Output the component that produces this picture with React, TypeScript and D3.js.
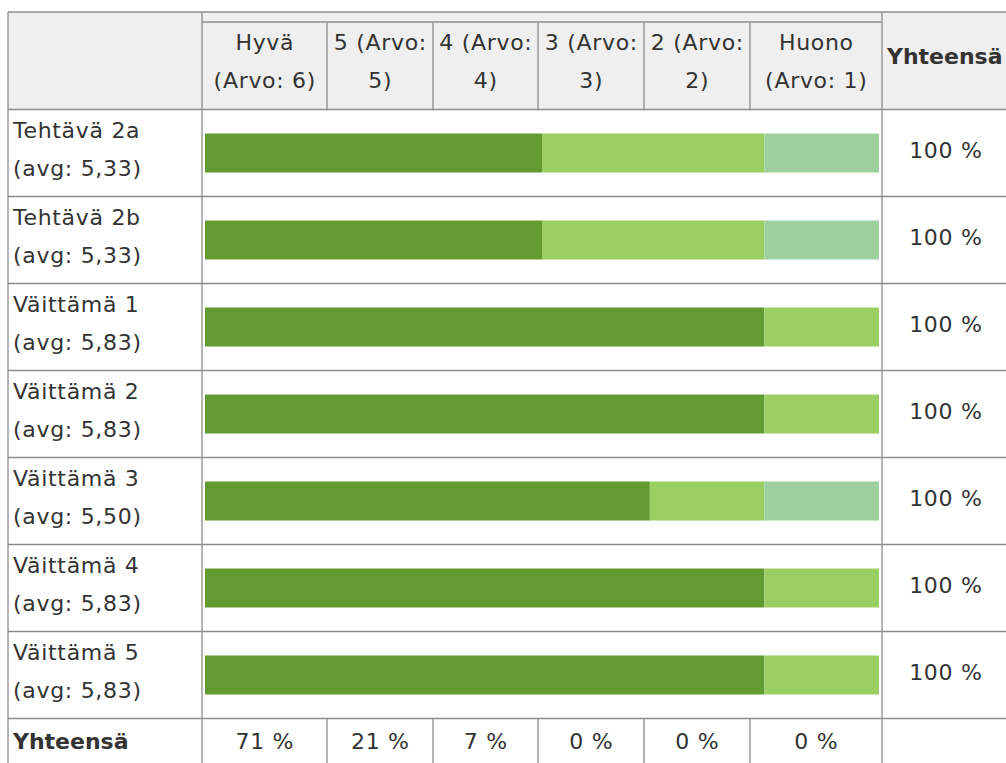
import React from "react";
import * as d3 from "d3";

const categories = ["Tehtävä 2a", "Tehtävä 2b", "Väittämä 1", "Väittämä 2", "Väittämä 3", "Väittämä 4", "Väittämä 5"];
const avgLabels = ["(avg: 5,33)", "(avg: 5,33)", "(avg: 5,83)", "(avg: 5,83)", "(avg: 5,50)", "(avg: 5,83)", "(avg: 5,83)"];
const headerLine1 = ["Hyvä", "5 (Arvo:", "4 (Arvo:", "3 (Arvo:", "2 (Arvo:", "Huono"];
const headerLine2 = ["(Arvo: 6)", "5)", "4)", "3)", "2)", "(Arvo: 1)"];
const pctHyva = [50, 50, 83, 83, 66, 83, 83];
const pct5 = [33, 33, 17, 17, 17, 17, 17];
const pct4 = [17, 17, 0, 0, 17, 0, 0];
const pct3 = [0, 0, 0, 0, 0, 0, 0];
const pct2 = [0, 0, 0, 0, 0, 0, 0];
const pctHuono = [0, 0, 0, 0, 0, 0, 0];
const rowTotals = [100, 100, 100, 100, 100, 100, 100];
const columnTotals = [71, 21, 7, 0, 0, 0];
const seriesColors = ["#639b33", "#9ccf63", "#9ecf9e", "#c6e3b0", "#d9ecc9", "#eaf5e1"];
const totalLabel = "Yhteensä";

const series = [pctHyva, pct5, pct4, pct3, pct2, pctHuono];

const W = 1006;
const H = 763;
const colEdges = [8, 202, 327, 433, 538, 644, 750, 882, 1009];
const tableTop = 12;
const groupLine = 22;
const headerBottom = 109.5;
const rowH = 87;
const barH = 39;
const font = "'DejaVu Sans', Verdana, sans-serif";
const textColor = "#333";
const lineColor = "#8c8c8c";
const ls = 0.7;

export default function App() {
  const rowTop = (i: number) => headerBottom + i * rowH;
  const totalTop = rowTop(categories.length);
  const x = d3.scaleLinear().domain([0, 100]).range([205, 879]);

  const rows = categories.map((c, i) => {
    const vals = series.map((s) => s[i]);
    const stack: { x0: number; x1: number; color: string }[] = [];
    let acc = 0;
    vals.forEach((v, k) => {
      if (v > 0) stack.push({ x0: acc, x1: acc + v, color: seriesColors[k] });
      acc += v;
    });
    return { c, i, stack };
  });

  const lines: JSX.Element[] = [];
  const hl = (x1: number, x2: number, y: number, k: string) =>
    lines.push(<line key={k} x1={x1} x2={x2} y1={y} y2={y} stroke={lineColor} strokeWidth={1.3} />);
  const vl = (xx: number, y1: number, y2: number, k: string) =>
    lines.push(<line key={k} x1={xx} x2={xx} y1={y1} y2={y2} stroke={lineColor} strokeWidth={1.3} />);

  hl(colEdges[0], colEdges[8], tableTop, "top");
  hl(colEdges[1], colEdges[7], groupLine, "grp");
  hl(colEdges[0], colEdges[8], headerBottom, "hb");
  categories.forEach((_, i) => hl(colEdges[0], colEdges[8], rowTop(i + 1), "rb" + i));
  vl(colEdges[0], tableTop, H, "v0");
  vl(colEdges[1], tableTop, H, "v1");
  vl(colEdges[7], tableTop, H, "v7");
  for (let k = 2; k <= 6; k++) {
    vl(colEdges[k], groupLine, headerBottom + 1, "vh" + k);
    vl(colEdges[k], totalTop, H, "vt" + k);
  }

  return (
    <svg width={W} height={H} style={{ position: "absolute", left: 0, top: 0, background: "#fff" }} fontFamily={font}>
      <rect x={colEdges[0]} y={tableTop} width={colEdges[8] - colEdges[0]} height={headerBottom - tableTop} fill="#efefef" />
      {headerLine1.map((t, k) => {
        const cx = (colEdges[k + 1] + colEdges[k + 2]) / 2 + ls / 2;
        return (
          <g key={"h" + k} fill={textColor} fontSize={22} textAnchor="middle" letterSpacing={ls}>
            <text x={cx} y={50}>{t}</text>
            <text x={cx} y={88}>{headerLine2[k]}</text>
          </g>
        );
      })}
      <text x={colEdges[7] + 5} y={63.5} fontSize={22} fontWeight="bold" fill={textColor}>{totalLabel}</text>
      {rows.map((r) => {
        const top = rowTop(r.i);
        return (
          <g key={"r" + r.i}>
            <text x={13} y={top + 28} fontSize={22} fill={textColor} letterSpacing={ls}>{r.c}</text>
            <text x={13} y={top + 66} fontSize={22} fill={textColor} letterSpacing={ls}>{avgLabels[r.i]}</text>
            {r.stack.map((s, k) => (
              <rect key={k} x={x(s.x0)} y={top + (rowH - barH) / 2} width={x(s.x1) - x(s.x0)} height={barH} fill={s.color} />
            ))}
            <text x={(colEdges[7] + colEdges[8]) / 2 + ls / 2} y={top + 48} fontSize={22} fill={textColor} textAnchor="middle" letterSpacing={ls}>
              {rowTotals[r.i] + " %"}
            </text>
          </g>
        );
      })}
      <text x={13} y={totalTop + 30} fontSize={22} fontWeight="bold" fill={textColor}>{totalLabel}</text>
      {columnTotals.map((t, k) => (
        <text key={"t" + k} x={(colEdges[k + 1] + colEdges[k + 2]) / 2 + ls / 2} y={totalTop + 30} fontSize={22} fill={textColor} textAnchor="middle" letterSpacing={ls}>
          {t + " %"}
        </text>
      ))}
      {lines}
    </svg>
  );
}
